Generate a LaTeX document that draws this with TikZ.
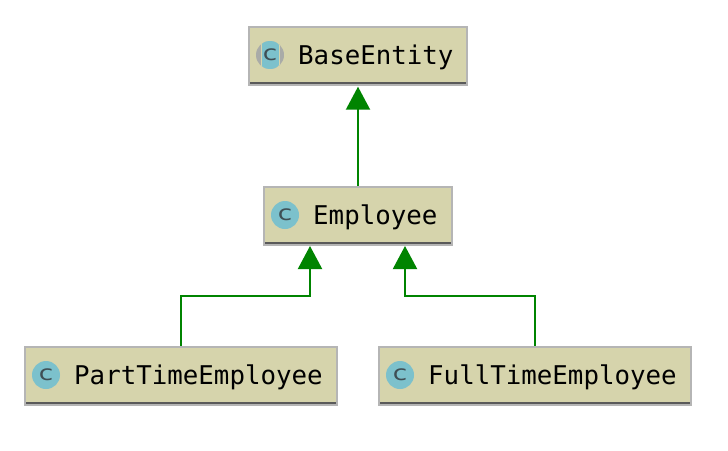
\documentclass[tikz,border=0pt]{standalone}
\usepackage{fontspec}
\setmonofont{DejaVu Sans Mono}
\setsansfont{DejaVu Sans}
\usetikzlibrary{arrows.meta,calc}
\definecolor{boxfill}{HTML}{D6D4AC}
\definecolor{boxedge}{HTML}{B5B5B5}
\definecolor{boxbase}{HTML}{5A5A5A}
\definecolor{teal}{HTML}{7CC1CC}
\definecolor{ring}{HTML}{A9ABA8}
\definecolor{icontext}{HTML}{3F4F55}
\definecolor{link}{HTML}{008400}
\tikzset{
  classbox/.style={draw=boxedge,line width=2.2pt,fill=boxfill,minimum height=58pt,inner sep=0pt,outer sep=1pt},
  classname/.style={inner sep=0pt,anchor=base west,font=\ttfamily\fontsize{25.8}{26}\selectfont,text=black},
  icon/.style={circle,fill=teal,minimum size=28pt,inner sep=0pt},
  iconletter/.style={inner sep=0pt,font=\sffamily\fontsize{21}{21}\selectfont,text=icontext,xscale=1.25,transform shape},
  inherit/.style={draw=link,line width=2pt,-{Triangle[length=23pt,width=24pt,color=link]},shorten >=1pt},
}
\begin{document}
\begin{tikzpicture}[x=1pt,y=-1pt]
\useasboundingbox (0,0) rectangle (728,450);
\fill[white] (0,0) rectangle (728,450);
\node[classbox,minimum width=218pt] (base) at (358,55.7) {};
\node[classbox,minimum width=188pt] (emp) at (358,215.7) {};
\node[classbox,minimum width=312pt] (pt) at (181,375.7) {};
\node[classbox,minimum width=312pt] (ft) at (535,375.7) {};
\foreach \n in {base,emp,pt,ft}{
  \draw[boxbase,line width=2.2pt] ($(\n.south west)+(2,-3)$) -- ($(\n.south east)+(-2,-3)$);
}
% icons
\begin{scope}
  \clip (270,55) circle (14);
  \fill[ring] (256,41) rectangle (284,69);
  \fill[boxfill] (260.5,41) rectangle (279.5,69);
  \fill[teal] (261.5,41) rectangle (278.5,69);
\end{scope}
\node (lbase) at (270,55) {};
\node (lemp) at (285,215) {};
\node (lpt) at (46,375) {};
\node (lft) at (400,375) {};
\node[icon] (iemp) at (lemp) {};
\node[icon] (ipt) at (lpt) {};
\node[icon] (ift) at (lft) {};
\node[iconletter] (cbase) at (lbase) {c};
\node[iconletter] (cemp) at (lemp) {c};
\node[iconletter] (cpt) at (lpt) {c};
\node[iconletter] (cft) at (lft) {c};
% names
\node[classname] (tbase) at (298,64) {BaseEntity};
\node[classname] (temp) at (313,224) {Employee};
\node[classname] (tpt) at (74,384) {PartTimeEmployee};
\node[classname] (tft) at (428,384) {FullTimeEmployee};
% connectors
\coordinate (eleft) at (310,245);
\coordinate (eright) at (405,245);
\coordinate (midy) at (358,296);
\draw[inherit] (emp.north) -- (base.south);
\draw[inherit] (pt.north) |- (midy -| eleft) -- (eleft);
\draw[inherit] (ft.north) |- (midy -| eright) -- (eright);
\end{tikzpicture}
\end{document}
